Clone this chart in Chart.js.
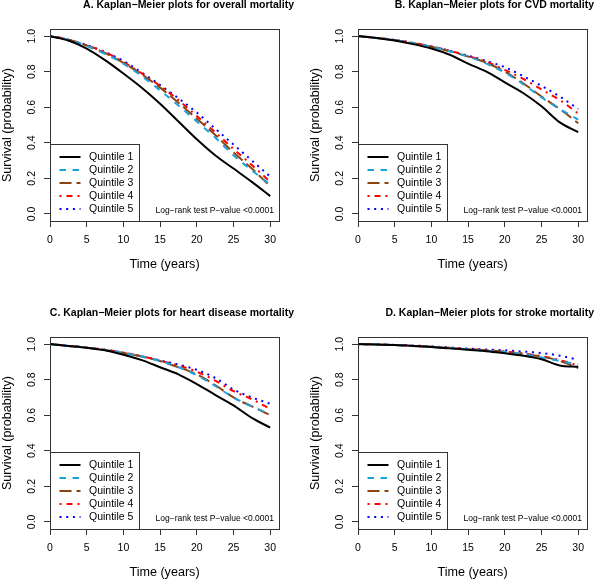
<!DOCTYPE html>
<html>
<head>
<meta charset="utf-8">
<title>Kaplan-Meier plots by quintile</title>
<script src="https://cdn.jsdelivr.net/npm/chart.js"></script>
<style>
    body { margin: 0; background: #fff; }
    canvas { position: absolute; }
</style>
</head>
<body>
<canvas id="chartA" width="300" height="273" style="left:0;top:0"></canvas>
<canvas id="chartB" width="300" height="273" style="left:300px;top:0"></canvas>
<canvas id="chartC" width="300" height="273" style="left:0;top:308px"></canvas>
<canvas id="chartD" width="300" height="273" style="left:300px;top:308px"></canvas>
<script>
// time points (years) the curves were read at
const years = [0, 2.5, 5, 7.5, 10, 12.5, 15, 17.5, 20, 22.5, 25, 27.5, 30];
const xTicks = [0, 5, 10, 15, 20, 25, 30];
const yTicks = [0, 0.2, 0.4, 0.6, 0.8, 1.0];
const quintiles = ['Quintile 1', 'Quintile 2', 'Quintile 3', 'Quintile 4', 'Quintile 5'];

// A. overall mortality
const overallQ1 = [1.0, 0.975, 0.93, 0.865, 0.79, 0.71, 0.62, 0.52, 0.42, 0.33, 0.255, 0.18, 0.10];
const overallQ2 = [1.0, 0.98, 0.945, 0.90, 0.845, 0.775, 0.695, 0.61, 0.52, 0.43, 0.33, 0.245, 0.165];
const overallQ3 = [1.0, 0.98, 0.947, 0.905, 0.85, 0.785, 0.71, 0.625, 0.535, 0.445, 0.345, 0.255, 0.155];
const overallQ4 = [1.0, 0.98, 0.948, 0.91, 0.855, 0.79, 0.72, 0.64, 0.55, 0.46, 0.365, 0.275, 0.18];
const overallQ5 = [1.0, 0.98, 0.95, 0.91, 0.86, 0.795, 0.725, 0.65, 0.57, 0.48, 0.39, 0.30, 0.21];

// B. CVD mortality
const cvdQ1 = [1.0, 0.99, 0.975, 0.955, 0.93, 0.895, 0.845, 0.80, 0.74, 0.68, 0.605, 0.515, 0.46];
const cvdQ2 = [1.0, 0.99, 0.978, 0.96, 0.94, 0.915, 0.885, 0.845, 0.795, 0.73, 0.655, 0.59, 0.53];
const cvdQ3 = [1.0, 0.99, 0.978, 0.96, 0.94, 0.915, 0.885, 0.85, 0.80, 0.735, 0.66, 0.59, 0.51];
const cvdQ4 = [1.0, 0.99, 0.978, 0.962, 0.942, 0.918, 0.888, 0.855, 0.81, 0.76, 0.70, 0.64, 0.565];
const cvdQ5 = [1.0, 0.99, 0.978, 0.962, 0.942, 0.918, 0.89, 0.86, 0.825, 0.775, 0.72, 0.66, 0.59];

// C. heart disease mortality
const heartQ1 = [1.0, 0.99, 0.98, 0.965, 0.94, 0.91, 0.87, 0.83, 0.775, 0.715, 0.655, 0.585, 0.53];
const heartQ2 = [1.0, 0.99, 0.98, 0.967, 0.95, 0.93, 0.905, 0.87, 0.825, 0.765, 0.70, 0.65, 0.605];
const heartQ3 = [1.0, 0.99, 0.98, 0.967, 0.95, 0.93, 0.905, 0.87, 0.83, 0.77, 0.70, 0.65, 0.60];
const heartQ4 = [1.0, 0.99, 0.98, 0.968, 0.952, 0.932, 0.907, 0.88, 0.845, 0.795, 0.735, 0.69, 0.635];
const heartQ5 = [1.0, 0.99, 0.98, 0.968, 0.952, 0.932, 0.908, 0.885, 0.855, 0.81, 0.745, 0.70, 0.665];

// D. stroke mortality
const strokeQ1 = [1.0, 0.998, 0.995, 0.99, 0.984, 0.976, 0.968, 0.96, 0.948, 0.935, 0.915, 0.88, 0.872];
const strokeQ2 = [1.0, 0.998, 0.995, 0.99, 0.985, 0.978, 0.971, 0.963, 0.955, 0.943, 0.925, 0.905, 0.885];
const strokeQ3 = [1.0, 0.998, 0.995, 0.99, 0.985, 0.978, 0.971, 0.965, 0.957, 0.945, 0.93, 0.905, 0.865];
const strokeQ4 = [1.0, 0.998, 0.995, 0.99, 0.985, 0.979, 0.972, 0.966, 0.958, 0.947, 0.932, 0.91, 0.88];
const strokeQ5 = [1.0, 0.998, 0.996, 0.992, 0.987, 0.981, 0.975, 0.97, 0.965, 0.958, 0.95, 0.935, 0.912];

// line styles per quintile (R: solid, dashed, longdash, dotdash, dotted)
const lineColors = ['#000000', '#1ea0da', '#8b4513', '#ff0000', '#0000ff'];
const lineDashes = [[], [6.5, 6.5], [12, 5], [2, 5, 6, 5], [2, 4.7]];

const FONT = "'Liberation Sans', Arial, Helvetica, sans-serif";
Chart.defaults.font.family = FONT;
Chart.defaults.color = '#000';

// box, legend, annotation and title drawn like the R base plot
const rDecorations = {
    id: 'rDecorations',
    afterDatasetsDraw(chart, args, opts) {
        const ctx = chart.ctx;
        const a = chart.chartArea;
        ctx.save();
        // plot box
        ctx.strokeStyle = '#333';
        ctx.lineWidth = 1;
        ctx.setLineDash([]);
        ctx.strokeRect(Math.round(a.left) + 0.5, Math.round(a.top) + 0.5,
            Math.round(a.right - a.left), Math.round(a.bottom - a.top));

        // legend box in lower-left corner
        const lx = Math.round(a.left) + 0.5, ly = Math.round(a.bottom) - 77 + 0.5;
        ctx.fillStyle = '#fff';
        ctx.fillRect(lx, ly, 89, 77);
        ctx.strokeRect(lx, ly, 89, 77);
        ctx.font = '10.5px ' + FONT;
        ctx.textBaseline = 'middle';
        ctx.textAlign = 'left';
        quintiles.forEach((name, i) => {
            const yy = Math.round(ly + 12.5 + i * 13);
            ctx.strokeStyle = lineColors[i];
            ctx.lineWidth = 2;
            ctx.setLineDash(lineDashes[i]);
            ctx.beginPath();
            ctx.moveTo(lx + 9, yy);
            ctx.lineTo(lx + 30, yy);
            ctx.stroke();
            ctx.fillStyle = '#000';
            ctx.fillText(name, lx + 38.5, yy + 0.5);
        });
        ctx.setLineDash([]);

        // log-rank annotation
        ctx.font = '8.5px ' + FONT;
        ctx.textAlign = 'right';
        ctx.fillText('Log\u2212rank test P\u2212value <0.0001', a.right - 5, a.bottom - 10);

        // panel title
        ctx.font = 'bold 10.5px ' + FONT;
        ctx.textAlign = 'right';
        ctx.fillText(opts.title, 294, 5.5);
        ctx.restore();
    }
};

function makePanel(id, title, series, boxLeft, titlePad) {
    const datasets = series.map((vals, i) => ({
        label: quintiles[i],
        data: years.map((t, k) => ({ x: t, y: vals[k] })),
        borderColor: lineColors[i],
        borderDash: lineDashes[i],
        borderWidth: 2,
        pointRadius: 0,
        fill: false,
        cubicInterpolationMode: 'monotone'
    }));

    new Chart(document.getElementById(id), {
        type: 'line',
        data: { datasets: datasets },
        plugins: [rDecorations],
        options: {
            responsive: false,
            animation: false,
            events: [],
            layout: { padding: { left: 0, right: 300 - boxLeft - 229, top: 29, bottom: 0 } },
            plugins: {
                legend: { display: false },
                tooltip: { enabled: false },
                rDecorations: { title: title }
            },
            scales: {
                x: {
                    type: 'linear',
                    min: 0,
                    max: 31.2,
                    afterBuildTicks: s => { s.ticks = xTicks.map(v => ({ value: v })); },
                    afterFit: s => { s.height = 52; },
                    grid: { drawOnChartArea: false, tickLength: 6, color: '#333' },
                    border: { display: false },
                    ticks: { padding: 7, font: { size: 10.5 }, color: '#000', maxRotation: 0,
                             callback: v => String(v) },
                    title: { display: true, text: 'Time (years)', font: { size: 12.6 },
                             color: '#000', padding: { top: 0, bottom: 0.5 } }
                },
                y: {
                    type: 'linear',
                    min: -0.04,
                    max: 1.04,
                    afterBuildTicks: s => { s.ticks = yTicks.map(v => ({ value: v })); },
                    afterFit: s => { s.width = boxLeft; },
                    grid: { drawOnChartArea: false, tickLength: 6, color: '#333' },
                    border: { display: false },
                    ticks: { padding: 5, font: { size: 10.5 }, color: '#000',
                             minRotation: 90, maxRotation: 90, crossAlign: 'center',
                             callback: v => v.toFixed(1) },
                    title: { display: true, text: 'Survival (probability)', font: { size: 12.6 },
                             color: '#000', padding: { top: titlePad, bottom: 0 } }
                }
            }
        }
    });
}

makePanel('chartA', 'A. Kaplan\u2212Meier plots for overall mortality',
    [overallQ1, overallQ2, overallQ3, overallQ4, overallQ5], 50, 0);
makePanel('chartB', 'B. Kaplan\u2212Meier plots for CVD mortality',
    [cvdQ1, cvdQ2, cvdQ3, cvdQ4, cvdQ5], 58, 7.5);
makePanel('chartC', 'C. Kaplan\u2212Meier plots for heart disease mortality',
    [heartQ1, heartQ2, heartQ3, heartQ4, heartQ5], 50, 0);
makePanel('chartD', 'D. Kaplan\u2212Meier plots for stroke mortality',
    [strokeQ1, strokeQ2, strokeQ3, strokeQ4, strokeQ5], 58, 7.5);
</script>
</body>
</html>
